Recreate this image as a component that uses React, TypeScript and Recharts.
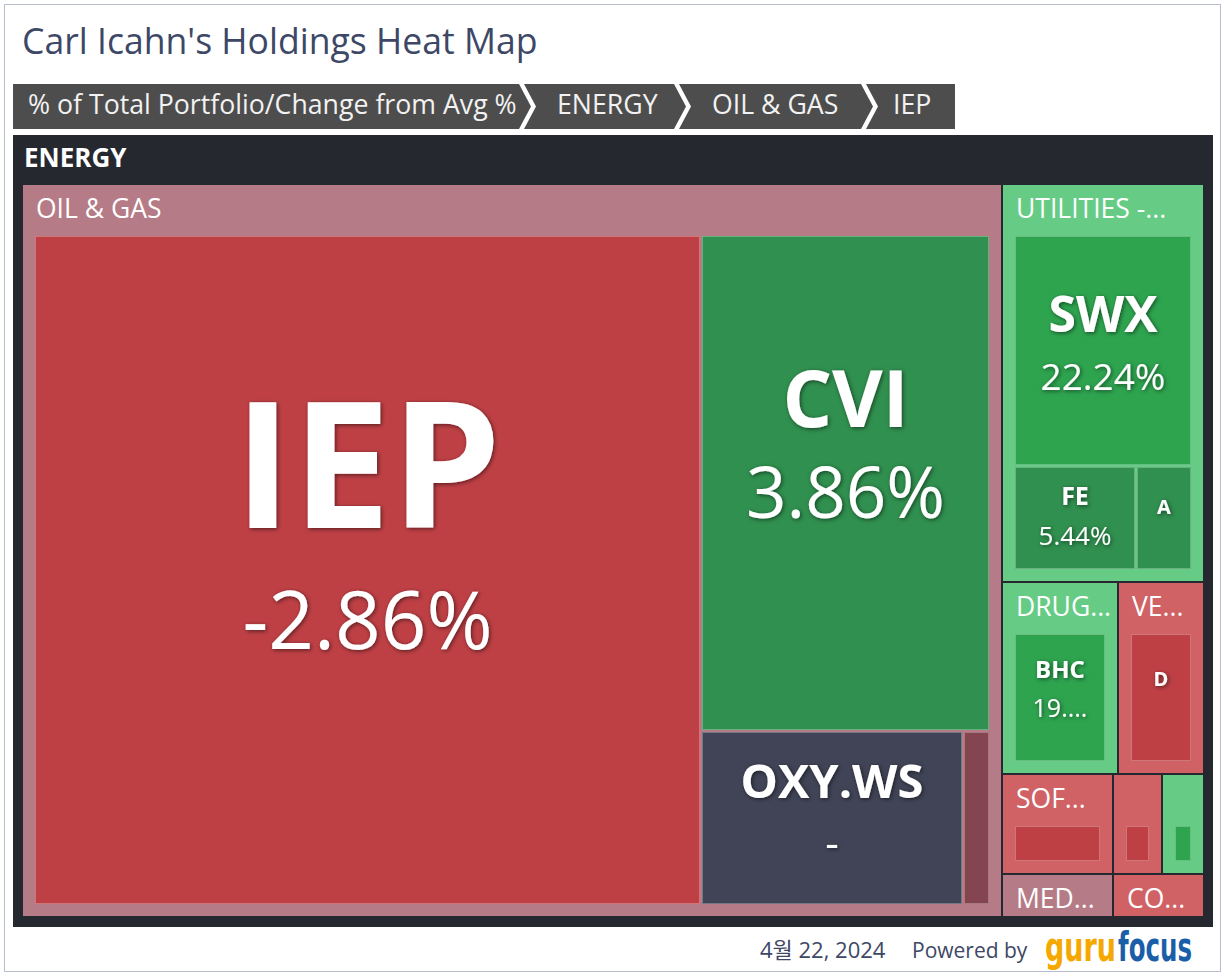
import React from 'react';
import { Treemap } from 'recharts';

// ---------- text ----------
const TITLE = "Carl Icahn's Holdings Heat Map";
const BREADCRUMBS = ['% of Total Portfolio/Change from Avg %', 'ENERGY', 'OIL & GAS', 'IEP'];
const SECTOR = 'ENERGY';
const DATE_TEXT = '4월 22, 2024';
const POWERED = 'Powered by';
const LOGO = ['guru', 'focus'];

// ---------- data ----------
// industry groups, in layout order (label = text as displayed)
const groupIds = ['OIL & GAS', 'UTILITIES', 'DRUG', 'VEHICLES', 'SOFTWARE', 'MEDICAL', 'G7', 'G8', 'CO'];
const groupLabels = ['OIL & GAS', 'UTILITIES -...', 'DRUG...', 'VE...', 'SOF...', 'MED...', '', '', 'CO...'];

// holdings per group
const leafTickers = [
  ['IEP', 'CVI', 'OXY.WS', 'OG-4'],
  ['SWX', 'FE', 'A'],
  ['BHC'],
  ['D'],
  ['SW-1'],
  ['MD-1'],
  ['G7-1'],
  ['G8-1'],
  ['CO-1'],
];
// % of total portfolio
const leafWeights = [
  [57.88, 18.55, 5.88, 0.61],
  [6.385, 1.99, 0.905],
  [2.57],
  [1.91],
  [1.28],
  [0.55],
  [0.57],
  [0.48],
  [0.45],
];
// change from avg % (null = no data)
const leafChanges: (number | null)[][] = [
  [-2.86, 3.86, null, -0.5],
  [22.24, 5.44, 1.2],
  [19.5],
  [-3.2],
  [-4.0],
  [-1.0],
  [-3.5],
  [12.0],
  [-2.5],
];
// change text as displayed
const leafChangeLabels = [
  ['-2.86%', '3.86%', '-', ''],
  ['22.24%', '5.44%', ''],
  ['19....'],
  [''],
  [''],
  [''],
  [''],
  [''],
  [''],
];

// ---------- styles ----------
const FONT = '"Open Sans", "Noto Sans", sans-serif';
const KFONT = '"Open Sans", "Noto Sans CJK KR", sans-serif';

const LABEL_STYLE: Record<string, { t: number; p: number; ty: number; py: number }> = {
  IEP: { t: 176, p: 80, ty: -104.5, py: 50.5 },
  CVI: { t: 78, p: 71, ty: -84, py: 10 },
  'OXY.WS': { t: 47, p: 42, ty: -37, py: 25 },
  SWX: { t: 50, p: 37, ty: -36, py: 26 },
  FE: { t: 25, p: 26, ty: -22, py: 18 },
  A: { t: 20, p: 0, ty: -11.5, py: 0 },
  BHC: { t: 24, p: 25, ty: -28.5, py: 10.5 },
  D: { t: 20, p: 0, ty: -19, py: 0 },
};

const leafColor = (c: number | null | undefined) => {
  if (c === null || c === undefined) return '#404456';
  if (c < -2) return '#be4045';
  if (c < 0) return '#844450';
  if (c < 10) return '#30904f';
  return '#2ea44f';
};
const groupColor = (children: any[]) => {
  let s = 0;
  let w = 0;
  (children || []).forEach((c) => {
    if (c.change !== null && c.change !== undefined) {
      s += c.change * c.size;
      w += c.size;
    }
  });
  const avg = w ? s / w : 0;
  if (avg < -2) return '#d06266';
  if (avg < 0) return '#b57b86';
  return '#66cc85';
};

const data = groupIds.map((gid, gi) => ({
  id: gid,
  name: groupLabels[gi],
  children: leafTickers[gi].map((t, li) => ({
    id: t,
    name: t,
    size: leafWeights[gi][li],
    change: leafChanges[gi][li],
    changeLabel: leafChangeLabels[gi][li],
  })),
}));

const PAD_L = 12;
const PAD_R = 12;
const PAD_T = 51;
const PAD_B = 12;

function findParent(node: any, id: string): any {
  if (!node || !node.children) return null;
  if (node.children.some((c: any) => c.id === id)) return node;
  for (const c of node.children) {
    const r = findParent(c, id);
    if (r) return r;
  }
  return null;
}

function HeatCell(props: any) {
  const { depth, x, y, width, height, root } = props;
  if (depth === 0) {
    return (
      <defs>
        <filter id="tshadow" x="-30%" y="-30%" width="160%" height="160%">
          <feDropShadow dx="1.2" dy="1.2" stdDeviation="2" floodColor="#000" floodOpacity="0.55" />
        </filter>
      </defs>
    );
  }
  if (depth === 1) {
    const fs = 26.5;
    return (
      <g>
        <rect x={x + 1} y={y + 1} width={width - 2} height={height - 2} fill={groupColor(props.children)} />
        {props.name ? (
          <text x={x + 14} y={y + 25 + 0.357 * fs} fill="#ffffff" fontSize={fs} fontFamily={FONT}>
            {props.name}
          </text>
        ) : null}
      </g>
    );
  }
  const parent = findParent(root, props.id);
  if (!parent) return null;
  const iw = parent.width - PAD_L - PAD_R;
  const ih = parent.height - PAD_T - PAD_B;
  if (iw <= 4 || ih <= 4) return null;
  const sx = iw / parent.width;
  const sy = ih / parent.height;
  const lx = Math.round(parent.x + PAD_L + (x - parent.x) * sx);
  const ly = Math.round(parent.y + PAD_T + (y - parent.y) * sy);
  const rx = Math.round(parent.x + PAD_L + (x + width - parent.x) * sx);
  const ry = Math.round(parent.y + PAD_T + (y + height - parent.y) * sy);
  const lw = rx - lx;
  const lh = ry - ly;
  const cx = lx + lw / 2;
  const cy = ly + lh / 2;
  const st = LABEL_STYLE[props.name];
  return (
    <g>
      <rect x={lx + 1} y={ly + 1} width={Math.max(0, lw - 2)} height={Math.max(0, lh - 2)} fill={leafColor(props.change)} />
      <rect
        x={lx + 1.5}
        y={ly + 1.5}
        width={Math.max(0, lw - 3)}
        height={Math.max(0, lh - 3)}
        fill="none"
        stroke="rgba(255,255,255,0.28)"
        strokeWidth={1}
      />
      {st ? (
        <g filter="url(#tshadow)">
          <text
            x={cx}
            y={cy + st.ty + 0.357 * st.t}
            textAnchor="middle"
            fill="#ffffff"
            fontWeight={700}
            fontSize={st.t}
            fontFamily={FONT}
          >
            {props.name}
          </text>
          {st.p && props.changeLabel ? (
            <text
              x={cx}
              y={cy + st.py + 0.357 * st.p}
              textAnchor="middle"
              fill="#ffffff"
              fontSize={st.p}
              fontFamily={FONT}
            >
              {props.changeLabel}
            </text>
          ) : null}
        </g>
      ) : null}
    </g>
  );
}

// breadcrumb geometry
const BC_LEFT = [13, 524, 679, 866];
const BC_RIGHT = [519, 674, 861, 955];
const BC_TEXT_X = [28, 557, 712, 893];
const BC_Y0 = 84;
const BC_Y1 = 129;
const ARROW = 12;

function crumbPoints(i: number) {
  const L = BC_LEFT[i];
  const R = BC_RIGHT[i];
  const mid = (BC_Y0 + BC_Y1) / 2;
  const pts: number[][] = [[L, BC_Y0], [R, BC_Y0]];
  if (i < BC_LEFT.length - 1) pts.push([R + ARROW, mid]);
  pts.push([R, BC_Y1], [L, BC_Y1]);
  if (i > 0) pts.push([L + ARROW, mid]);
  return pts.map((p) => p.join(',')).join(' ');
}

const LOGO_FONT = '"DejaVu Sans Condensed", "Liberation Sans Narrow", sans-serif';

export default function App() {
  return (
    <div style={{ position: 'absolute', left: 0, top: 0, width: 1226, height: 977, background: '#ffffff', overflow: 'hidden' }}>
      <div
        style={{
          position: 'absolute',
          left: 4,
          top: 4,
          width: 1215,
          height: 966,
          border: '1px solid #b8bdcd',
        }}
      />
      <div style={{ position: 'absolute', left: 13, top: 135, width: 1200, height: 792, background: '#25282f' }} />
      <div style={{ position: 'absolute', left: 22, top: 184, width: 1182, height: 733 }}>
        <Treemap
          width={1182}
          height={733}
          data={data}
          dataKey="size"
          nameKey="name"
          aspectRatio={0.5 * (1 + Math.sqrt(5))}
          isAnimationActive={false}
          content={<HeatCell />}
        />
      </div>
      <svg style={{ position: 'absolute', left: 0, top: 0, pointerEvents: 'none' }} width={1226} height={977}>
        <text x={22} y={54} fontSize={35.6} fill="#3d4766" fontFamily={FONT}>
          {TITLE}
        </text>
        {BREADCRUMBS.map((b, i) => (
          <g key={b}>
            <polygon points={crumbPoints(i)} fill="#4d4d4d" />
            <text x={BC_TEXT_X[i]} y={114} fontSize={26.7} fill="#f2f2f2" fontFamily={FONT}>
              {b}
            </text>
          </g>
        ))}
        <text x={24} y={167} fontSize={26} fontWeight={700} fill="#ffffff" fontFamily={FONT}>
          {SECTOR}
        </text>
        <text x={760} y={958} fontSize={22} fill="#3d4766" fontFamily={KFONT}>
          {DATE_TEXT}
        </text>
        <text x={912} y={958} fontSize={21} fill="#3d4766" fontFamily={FONT}>
          {POWERED}
        </text>
        <text
          x={1045}
          y={961}
          fontSize={40}
          fontWeight={700}
          fill="#f5a800"
          fontFamily={LOGO_FONT}
          textLength={71}
          lengthAdjust="spacingAndGlyphs"
        >
          {LOGO[0]}
        </text>
        <text
          x={1118}
          y={961}
          fontSize={40}
          fontWeight={700}
          fill="#1b5ea8"
          fontFamily={LOGO_FONT}
          textLength={74}
          lengthAdjust="spacingAndGlyphs"
        >
          {LOGO[1]}
        </text>
      </svg>
    </div>
  );
}
